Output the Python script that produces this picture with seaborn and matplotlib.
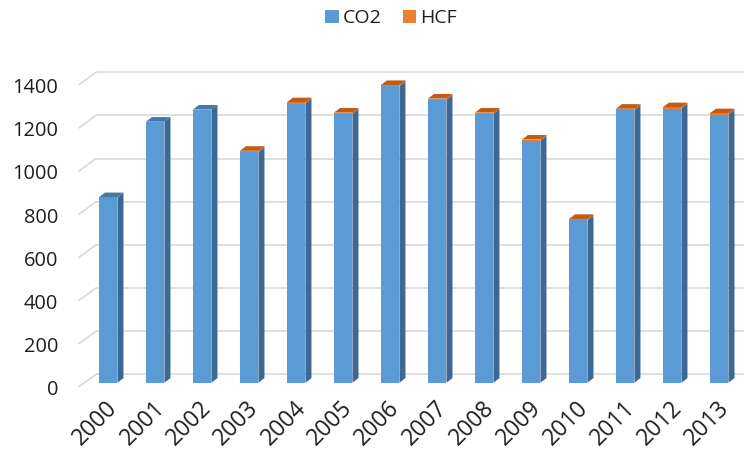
import matplotlib
matplotlib.use("Agg")
import matplotlib.pyplot as plt
import numpy as np
import pandas as pd
import seaborn as sns
from matplotlib.patches import Polygon, Patch
from matplotlib.transforms import ScaledTranslation

# Emissions per year (stacked: CO2 at the bottom, HCF on top)
years = ["2000", "2001", "2002", "2003", "2004", "2005", "2006",
         "2007", "2008", "2009", "2010", "2011", "2012", "2013"]
co2 = [860, 1210, 1266, 1069, 1294, 1246, 1374, 1311, 1246, 1121, 753, 1264, 1271, 1243]
hcf = [0, 0, 0, 6, 6, 6, 6, 6, 6, 6, 6, 6, 6, 6]
y_ticks = [0, 200, 400, 600, 800, 1000, 1200, 1400]

BLUE = "#5B9BD5"
BLUE_SIDE = "#3C6893"
BLUE_TOP = "#4677A8"
ORANGE = "#ED7D31"
ORANGE_SIDE = "#A9561E"
ORANGE_TOP = "#C55A11"
GRID = "#D9D9D9"
TEXT = "#1F1F1F"

sns.set_theme(style="white")
plt.rcParams["font.family"] = ["Open Sans", "DejaVu Sans"]

W, H = 744, 454
fig = plt.figure(figsize=(W / 100, H / 100), dpi=100)
ax = fig.add_axes([84.7 / W, 71.3 / H, 658 / W, 302 / H])

df = pd.DataFrame({"year": years, "CO2": co2, "HCF": hcf})
df["total"] = df["CO2"] + df["HCF"]

bar_w = 0.394
sns.barplot(data=df, x="year", y="total", color=ORANGE, saturation=1,
            width=bar_w, errorbar=None, ax=ax, zorder=3, linewidth=0)
n1 = len(ax.patches)
sns.barplot(data=df, x="year", y="CO2", color=BLUE, saturation=1,
            width=bar_w, errorbar=None, ax=ax, zorder=3, linewidth=0)
blue_bars = ax.patches[n1:]

ax.set_xlim(-0.5, 13.5)
ax.set_ylim(0, 1400)
ax.set_xlabel("")
ax.set_ylabel("")
for s in ax.spines.values():
    s.set_visible(False)
ax.grid(False)

# pixel -> data conversion for the depth effect
sx = (13.5 - -0.5) / 658.0
sy = 1400.0 / 302.0
dx, dy = 6.0 * sx, 4.6 * sy             # column depth
wall_dx, wall_dy = 11.5 * sx, 8.4 * sy  # back wall offset
floor_dx, floor_dy = 5.5 * sx, 4.0 * sy  # front floor edge offset

# back-wall gridlines with the slanted floor stub on the left
x_wall0 = -0.5 + (96 - 84.7) / 47.0
x_wall1 = -0.5 + (744 - 84.7) / 47.0
for v in y_ticks:
    yb = v + wall_dy
    ax.plot([x_wall0, x_wall1], [yb, yb], color=GRID, lw=1.2,
            zorder=1, clip_on=False, solid_capstyle="butt")
    ax.plot([x_wall0 - (wall_dx + floor_dx), x_wall0], [v - floor_dy, yb],
            color=GRID, lw=1.2, zorder=1, clip_on=False)

# side and top faces of each column
for p, c, h in zip(blue_bars, co2, hcf):
    x0 = p.get_x()
    x1 = x0 + p.get_width()
    t = c + h
    ax.add_patch(Polygon([(x1, 0), (x1, c), (x1 + dx, c + dy), (x1 + dx, dy)],
                         closed=True, facecolor=BLUE_SIDE, edgecolor="none",
                         zorder=3, clip_on=False))
    if h > 0:
        ax.add_patch(Polygon([(x1, c), (x1, t), (x1 + dx, t + dy), (x1 + dx, c + dy)],
                             closed=True, facecolor=ORANGE_SIDE, edgecolor="none",
                             zorder=3, clip_on=False))
    ax.add_patch(Polygon([(x0, t), (x1, t), (x1 + dx, t + dy), (x0 + dx, t + dy)],
                         closed=True, facecolor=ORANGE_TOP if h > 0 else BLUE_TOP,
                         edgecolor="none", zorder=3, clip_on=False))

# ticks
ax.set_yticks(y_ticks)
ax.set_yticklabels([str(v) for v in y_ticks])
ax.tick_params(axis="y", length=0, pad=19.2, labelsize=14.4, labelcolor=TEXT)
for lab in ax.get_yticklabels():
    lab.set_transform(lab.get_transform() + ScaledTranslation(0, -5 / 100, fig.dpi_scale_trans))

ax.set_xticks(range(len(years)))
ax.set_xticklabels(years, rotation=45, ha="right", va="center", rotation_mode="anchor")
ax.tick_params(axis="x", length=0, pad=15, labelsize=16.5, labelcolor=TEXT)
for lab in ax.get_xticklabels():
    lab.set_transform(lab.get_transform() + ScaledTranslation(6 / 100, -1 / 100, fig.dpi_scale_trans))

handles = [Patch(facecolor=BLUE, edgecolor="none"), Patch(facecolor=ORANGE, edgecolor="none")]
fig.legend(handles, ["CO2", "HCF"], loc="center", bbox_to_anchor=(391 / W, 1 - 18 / H),
           ncol=2, frameon=False, fontsize=14, handlelength=0.68, handleheight=0.68,
           handletextpad=0.2, columnspacing=1.1, labelcolor=TEXT)

fig.savefig("out.png", dpi=100)
